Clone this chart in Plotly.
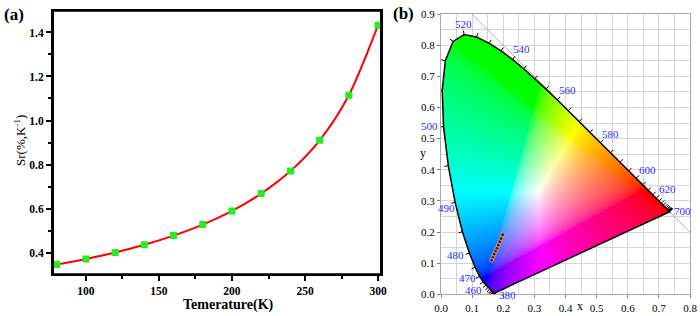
import numpy as np
import plotly.graph_objects as go

# ---------------- data: panel (a) ----------------
temps = [80, 100, 120, 140, 160, 180, 200, 220, 240, 260, 280, 300]
sr_vals = [0.345, 0.371, 0.400, 0.435, 0.477, 0.527, 0.589, 0.668, 0.770, 0.910, 1.115, 1.433]

# ---------------- data: panel (b) CIE 1931 spectral locus ----------------
wavelengths = list(range(380, 705, 5))
locus_x = [0.1741, 0.1740, 0.1738, 0.1736, 0.1733, 0.1730, 0.1726, 0.1721, 0.1714, 0.1703,
           0.1689, 0.1669, 0.1644, 0.1611, 0.1566, 0.1510, 0.1440, 0.1355, 0.1241, 0.1096,
           0.0913, 0.0687, 0.0454, 0.0235, 0.0082, 0.0039, 0.0139, 0.0389, 0.0743, 0.1142,
           0.1547, 0.1929, 0.2296, 0.2658, 0.3016, 0.3373, 0.3731, 0.4087, 0.4441, 0.4788,
           0.5125, 0.5448, 0.5752, 0.6029, 0.6270, 0.6482, 0.6658, 0.6801, 0.6915, 0.7006,
           0.7079, 0.7140, 0.7190, 0.7230, 0.7260, 0.7283, 0.7300, 0.7311, 0.7320, 0.7327,
           0.7334, 0.7340, 0.7344, 0.7346, 0.7347]
locus_y = [0.0050, 0.0050, 0.0049, 0.0049, 0.0048, 0.0048, 0.0048, 0.0048, 0.0051, 0.0058,
           0.0069, 0.0086, 0.0109, 0.0138, 0.0177, 0.0227, 0.0297, 0.0399, 0.0578, 0.0868,
           0.1327, 0.2007, 0.2950, 0.4127, 0.5384, 0.6548, 0.7502, 0.8120, 0.8338, 0.8262,
           0.8059, 0.7816, 0.7543, 0.7243, 0.6923, 0.6589, 0.6245, 0.5896, 0.5547, 0.5202,
           0.4866, 0.4544, 0.4242, 0.3965, 0.3725, 0.3514, 0.3340, 0.3197, 0.3083, 0.2993,
           0.2920, 0.2859, 0.2809, 0.2770, 0.2740, 0.2717, 0.2700, 0.2689, 0.2680, 0.2673,
           0.2666, 0.2660, 0.2656, 0.2654, 0.2653]

label_wl = [380, 460, 470, 480, 490, 500, 520, 540, 560, 580, 600, 620, 700]
label_shift = [(12, -2), (-12, -5), (-12, -2), (-14, -2), (-9, -6), (-14, 1), (-1, 11),
               (9, 10), (10, 10), (10, 9), (11, 8), (11, 9), (13, 1)]

# measured chromaticity points
cie_x = [0.163, 0.167, 0.171, 0.176, 0.180, 0.184, 0.189, 0.193, 0.198]
cie_y = [0.110, 0.120, 0.129, 0.140, 0.148, 0.158, 0.169, 0.179, 0.191]

# x + y = 1 reference line
diag_x = [0.1, 0.8]
diag_y = [0.9, 0.2]

FONT = "Liberation Serif, Times New Roman, Times, serif"

# ---------------- colour field for the horseshoe ----------------
step = 0.0025
gx = np.arange(0, 0.8, step) + step / 2
gy = np.arange(0, 0.9, step) + step / 2
GX, GY = np.meshgrid(gx, gy)

vx = np.array(locus_x)
vy = np.array(locus_y)
inside = np.zeros(GX.shape, bool)
n = len(vx)
j = n - 1
for i in range(n):
    xi, yi, xj, yj = vx[i], vy[i], vx[j], vy[j]
    cond = (yi > GY) != (yj > GY)
    xint = (xj - xi) * (GY - yi) / ((yj - yi) if yj != yi else 1e-12) + xi
    inside ^= cond & (GX < xint)
    j = i

Xc = GX / GY
Zc = (1 - GX - GY) / GY
r = 3.2406 * Xc - 1.5372 - 0.4986 * Zc
g = -0.9689 * Xc + 1.8758 + 0.0415 * Zc
b = 0.0557 * Xc - 0.2040 + 1.0570 * Zc
rgb = np.clip(np.stack([r, g, b], -1), 0, None)
rgb = rgb / np.maximum(rgb.max(-1, keepdims=True), 1e-9)
rgb = np.where(rgb <= 0.0031308, 12.92 * rgb, 1.055 * np.power(rgb, 1 / 2.4) - 0.055)
img = np.zeros(GX.shape + (4,), dtype=np.uint8)
img[..., :3] = np.clip(rgb * 255, 0, 255).astype(np.uint8)
img[..., 3] = inside.astype(np.uint8)

fig = go.Figure()

# ---------------- panel (a) ----------------
fig.add_trace(go.Scatter(
    x=temps, y=sr_vals, mode="lines+markers",
    line=dict(color="#ff0000", width=2, shape="spline", smoothing=0.8),
    marker=dict(symbol="square", size=7, color="#22ee22", line=dict(width=0)),
    xaxis="x", yaxis="y", showlegend=False, hoverinfo="skip"))

# ---------------- panel (b) ----------------
fig.add_trace(go.Image(z=img, colormodel="rgba", x0=step / 2, dx=step, y0=step / 2, dy=step,
                       xaxis="x2", yaxis="y2", hoverinfo="skip"))

fig.add_trace(go.Scatter(x=diag_x, y=diag_y, mode="lines",
                         line=dict(color="#b0b0b0", width=1),
                         xaxis="x2", yaxis="y2", showlegend=False, hoverinfo="skip"))

# outline: spectral locus + purple line
ox = locus_x + [locus_x[0]]
oy = locus_y + [locus_y[0]]
fig.add_trace(go.Scatter(x=ox, y=oy, mode="lines", line=dict(color="black", width=1.5),
                         xaxis="x2", yaxis="y2", showlegend=False, hoverinfo="skip"))

# small outward ticks every 5 nm
cx, cy = 0.33, 0.33
tx, ty = [], []
tlen = 0.013
for k in range(n):
    a = max(k - 1, 0)
    c = min(k + 1, n - 1)
    dxv = vx[c] - vx[a]
    dyv = vy[c] - vy[a]
    L = np.hypot(dxv, dyv)
    if L < 1e-9:
        dxv, dyv, L = 0.0, -1.0, 1.0
    nx_, ny_ = -dyv / L, dxv / L
    if (vx[k] - cx) * nx_ + (vy[k] - cy) * ny_ < 0:
        nx_, ny_ = -nx_, -ny_
    tx += [vx[k], vx[k] + tlen * nx_, None]
    ty += [vy[k], vy[k] + tlen * ny_, None]
fig.add_trace(go.Scatter(x=tx, y=ty, mode="lines", line=dict(color="black", width=1),
                         xaxis="x2", yaxis="y2", showlegend=False, hoverinfo="skip"))

fig.add_trace(go.Scatter(x=cie_x, y=cie_y, mode="markers",
                         marker=dict(size=4, color="#401818", line=dict(color="#e89090", width=1)),
                         xaxis="x2", yaxis="y2", showlegend=False, hoverinfo="skip"))

annotations = []
for w, (sx, sy) in zip(label_wl, label_shift):
    idx = wavelengths.index(w)
    annotations.append(dict(x=locus_x[idx], y=locus_y[idx], xref="x2", yref="y2",
                            text=str(w), showarrow=False, xshift=sx, yshift=sy,
                            xanchor="center", yanchor="middle",
                            font=dict(family=FONT, size=11, color="#2a2aff")))


def paper_text(px, py, text, size, angle=0):
    return dict(x=px / 700, y=1 - py / 316, xref="paper", yref="paper", text=text,
                textangle=angle, showarrow=False, xanchor="center", yanchor="middle",
                font=dict(family=FONT, size=size, color="black"))


annotations += [
    paper_text(228, 305, "<b>Temerature(K)</b>", 14),
    paper_text(20, 141, "Sr(%,K<sup>-1</sup>)", 13, -90),
    paper_text(14, 14, "<b>(a)</b>", 17),
    paper_text(403, 13, "<b>(b)</b>", 17),
    dict(x=0.447, y=0, xref="x2", yref="y2", text="x", yshift=-12, xanchor="center",
         yanchor="middle", showarrow=False, font=dict(family=FONT, size=12, color="black")),
    dict(x=0, y=0.455, xref="x2", yref="y2", text="y", xshift=-18, xanchor="center",
         yanchor="middle", showarrow=False, font=dict(family=FONT, size=12, color="black")),
]

axis_a = dict(showline=True, linecolor="black", linewidth=2, mirror=True,
              ticks="outside", ticklen=5, tickwidth=1.5, tickcolor="black",
              showgrid=False, zeroline=False, automargin=False,
              tickfont=dict(family=FONT, size=11.5, color="black", weight="bold"))
axis_b = dict(showline=True, linecolor="#a8a8a8", linewidth=1, mirror=True,
              ticks="outside", ticklen=3, tickwidth=1, tickcolor="#808080",
              showgrid=True, gridcolor="#d4d4d4", gridwidth=1, zeroline=False, automargin=False,
              tickfont=dict(family=FONT, size=11, color="black"))

fig.update_layout(
    template="none",
    width=700, height=316, margin=dict(l=0, r=0, t=0, b=0, pad=0),
    paper_bgcolor="white", plot_bgcolor="rgba(0,0,0,0)", showlegend=False,
    xaxis=dict(axis_a, domain=[53 / 700, 381 / 700], range=[77.5, 302], autorange=False,
               tickmode="array", tickvals=[100, 150, 200, 250, 300],
               minor=dict(tickmode="array", tickvals=[125, 175, 225, 275], ticklen=3,
                          tickwidth=1.5, tickcolor="black", ticks="outside"),
               anchor="y"),
    yaxis=dict(axis_a, domain=[1 - 274.3 / 316, 1 - 10.7 / 316], range=[0.301, 1.499],
               autorange=False, tickmode="array",
               tickvals=[0.4, 0.6, 0.8, 1.0, 1.2, 1.4],
               ticktext=["0.4", "0.6", "0.8", "1.0", "1.2", "1.4"],
               minor=dict(tickmode="array", tickvals=[0.5, 0.7, 0.9, 1.1, 1.3], ticklen=3,
                          tickwidth=1.5, tickcolor="black", ticks="outside"),
               anchor="x"),
    xaxis2=dict(axis_b, domain=[441 / 700, 690 / 700], range=[0, 0.8], autorange=False,
                dtick=0.1, tick0=0, tickformat=".1f",
                minor=dict(dtick=0.05, showgrid=True, gridcolor="#d4d4d4", ticks=""),
                anchor="y2", scaleanchor=False, constrain="range"),
    yaxis2=dict(axis_b, domain=[1 - 294.3 / 316, 1 - 14 / 316], range=[0, 0.9], autorange=False,
                dtick=0.1, tick0=0, tickformat=".1f",
                minor=dict(dtick=0.05, showgrid=True, gridcolor="#d4d4d4", ticks=""),
                anchor="x2", scaleanchor=False, constrain="range"),
    annotations=annotations,
    shapes=[dict(type="rect", xref="x domain", yref="y domain", x0=0, x1=1, y0=0, y1=1,
                 line=dict(color="black", width=2), layer="above")],
)

fig.write_html("out.html", config={"displayModeBar": False},
               post_script="document.body.style.margin='0';document.body.style.overflow='hidden';")
